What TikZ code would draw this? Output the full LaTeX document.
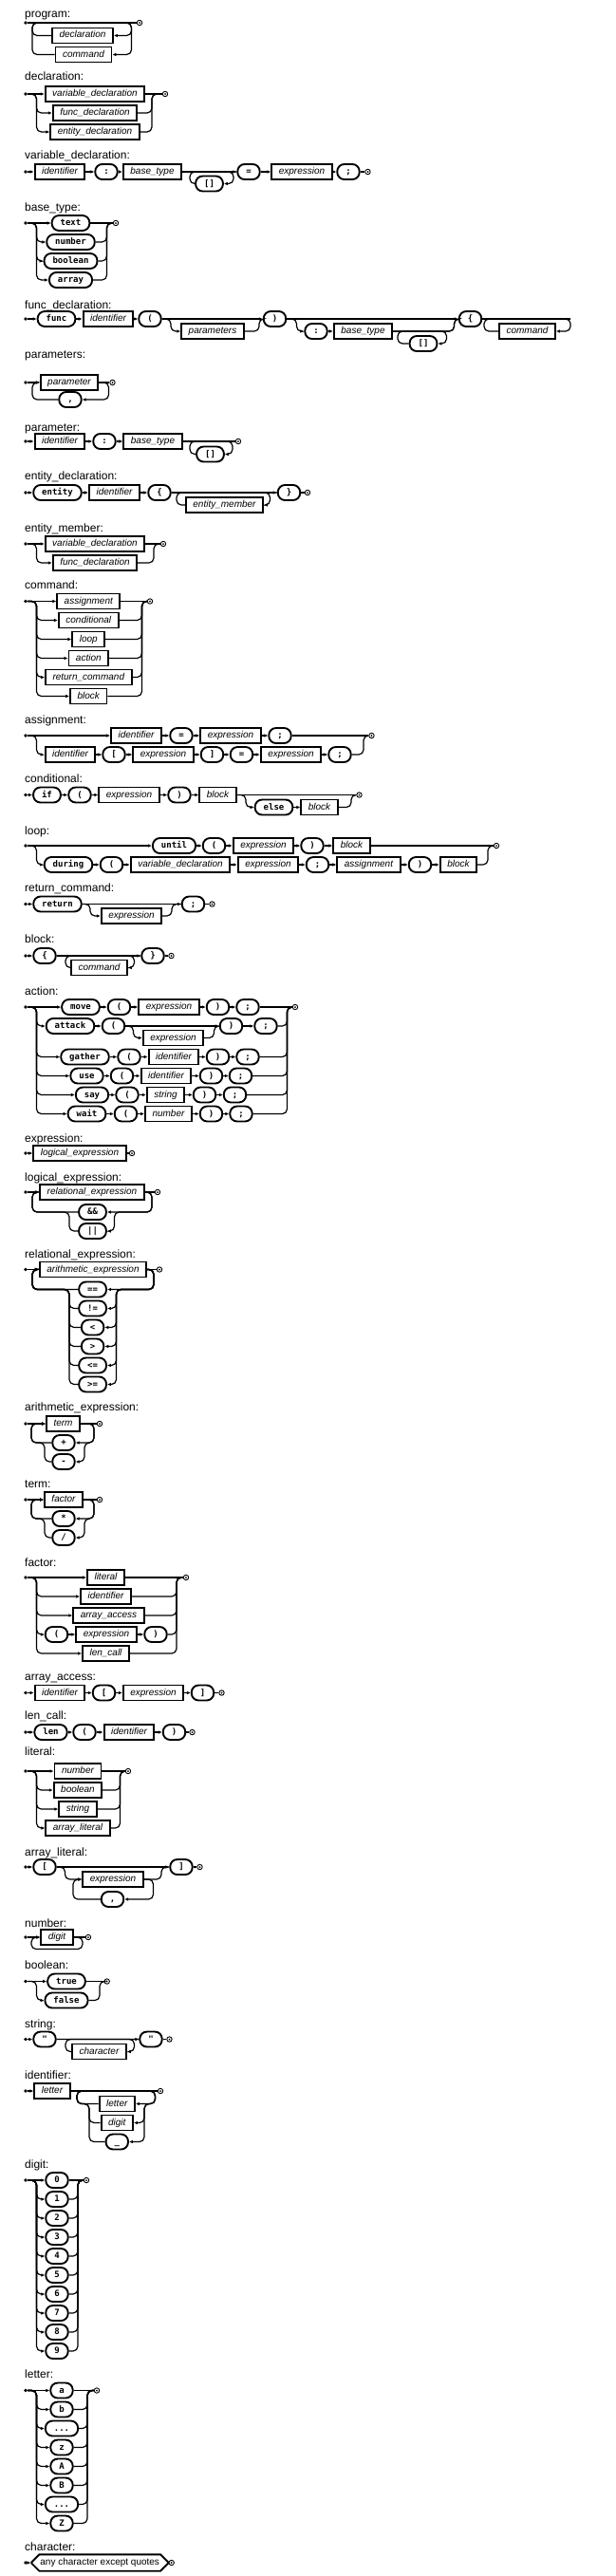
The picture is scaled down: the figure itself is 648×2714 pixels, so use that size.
\documentclass[tikz,border=0pt]{standalone}
\usepackage{fontspec}
\setmainfont{Liberation Sans}
\setmonofont{DejaVu Sans Mono}
\usepackage{tikz}
\usetikzlibrary{arrows.meta, shapes.misc}

\tikzset{
    ttl/.style={anchor=base west, inner sep=0pt, font=\fontsize{12}{14}\selectfont},
    nt/.style={draw, line width=1.9pt, minimum height=16pt, inner xsep=7.5pt, inner ysep=0pt,
        text height=7.2pt, text depth=2.2pt, font=\fontsize{10}{12}\selectfont\itshape},
    tm/.style={draw, line width=1.9pt, rounded corners=7.5pt, minimum height=16pt, minimum width=22pt,
        inner xsep=9pt, inner ysep=0pt, text height=6.8pt, text depth=1.8pt,
        font=\fontsize{9}{11}\selectfont\ttfamily\bfseries},
    chr/.style={draw, line width=1.9pt, chamfered rectangle, chamfered rectangle xsep=4pt,
        chamfered rectangle ysep=4pt, minimum height=16pt, inner xsep=5pt, inner ysep=0pt,
        text height=7.2pt, text depth=2.2pt, font=\fontsize{10}{12}\selectfont},
    src/.style={circle, fill, inner sep=0pt, minimum size=3.8pt},
    snk/.style={circle, draw, line width=0.9pt, inner sep=0pt, minimum size=5.4pt,
        path picture={\fill (path picture bounding box.center) circle (1pt);}},
    rl/.style={line width=1.2pt, rounded corners=5pt},
    ar/.style={-{Latex[length=4pt, width=3.6pt]}},
}

\begin{document}
\begin{tikzpicture}[x=1pt, y=-1pt]
    \useasboundingbox (0,0) rectangle (648,2714);
    \fill[white] (0,0) rectangle (648,2714);

    \node[ttl] (pgT) at (26,19) {program:};
    \node[src] (pgS) at (27,24) {};
    \node[snk] (pgE) at (147,24) {};
    \node[nt] (pgD) at (87,37.5) {declaration};
    \node[nt] (pgC) at (88,57.5) {command};
    \draw[rl] (pgS) -- (pgE);
    \draw[rl,ar] (pgS) -| (138.5,37.5) -- (pgD);
    \draw[rl,ar] (pgS) -| (138.5,57.5) -- (pgC);
    \draw[rl] (pgD) -| (34,24) -- (pgE);
    \draw[rl] (pgC) -| (34,24) -- (pgE);

    \node[ttl] (dcT) at (26,84.5) {declaration:};
    \node[src] (dcS) at (27,99) {};
    \node[snk] (dcE) at (174,99) {};
    \node[nt] (dcV) at (100,99) {variable\_declaration};
    \node[nt] (dcF) at (100,119) {func\_declaration};
    \node[nt] (dcN) at (100,139) {entity\_declaration};
    \draw[rl,ar] (dcS) -- (dcV);
    \draw[rl] (dcV) -- (dcE);
    \foreach \n/\y in {dcF/119, dcN/139} {
        \draw[rl,ar] (dcS) -| (38.5,\y) -- (\n);
        \draw[rl] (\n) -| (160,99) -- (dcE);
    }

    \node[ttl] (vdT) at (26,167) {variable\_declaration:};
    \node[src] (vdS) at (27,181) {};
    \node[nt] (vdI) at (63,181) {identifier};
    \node[tm] (vdC) at (112,181) {:};
    \node[nt] (vdB) at (160.5,181) {base\_type};
    \node[tm] (vdA) at (220.5,193.5) {[]};
    \node[tm] (vdQ) at (262,181) {=};
    \node[nt] (vdX) at (318,181) {expression};
    \node[tm] (vdM) at (367,181) {;};
    \node[snk] (vdE) at (387.5,181) {};
    \foreach \a/\b in {vdS/vdI, vdI/vdC, vdC/vdB, vdB/vdQ, vdQ/vdX, vdX/vdM}
        \draw[rl,ar] (\a) -- (\b);
    \draw[rl] (vdM) -- (vdE);
    \draw[rl,ar] (vdB) -| (246,193.5) -- (vdA);
    \draw[rl] (vdA) -| (200,181) -- (vdQ);

    \node[ttl] (btT) at (26,222) {base\_type:};
    \node[src] (btS) at (27,235) {};
    \node[snk] (btE) at (122,235) {};
    \node[tm] (btA) at (74.5,235) {text};
    \node[tm] (btB) at (74.5,255) {number};
    \node[tm] (btC) at (74.5,275) {boolean};
    \node[tm] (btD) at (74.5,295) {array};
    \draw[rl,ar] (btS) -- (btA);
    \draw[rl] (btA) -- (btE);
    \foreach \n/\y in {btB/255, btC/275, btD/295} {
        \draw[rl,ar] (btS) -| (38.5,\y) -- (\n);
        \draw[rl] (\n) -| (112.5,235) -- (btE);
    }

    \node[ttl] (fdT) at (26,325) {func\_declaration:};
    \node[src] (fdS) at (27,336) {};
    \node[tm] (fdF) at (59.5,336) {func};
    \node[nt] (fdI) at (114,336) {identifier};
    \node[tm] (fdP1) at (158,336) {(};
    \node[nt] (fdPa) at (224,349) {parameters};
    \node[tm] (fdP2) at (289.5,336) {)};
    \node[tm] (fdC) at (333,349) {:};
    \node[nt] (fdB) at (382.5,349) {base\_type};
    \node[tm] (fdA) at (446,362) {[]};
    \node[tm] (fdL) at (495.5,336) {\{};
    \node[nt] (fdCm) at (555.5,349) {command};
    \coordinate (fdZ) at (601,336);
    \foreach \a/\b in {fdS/fdF, fdF/fdI, fdI/fdP1, fdP1/fdP2, fdP2/fdL, fdC/fdB}
        \draw[rl,ar] (\a) -- (\b);
    \draw[rl,ar] (fdP1) -| (180,349) -- (fdPa);
    \draw[rl] (fdPa) -| (273,336) -- (fdP2);
    \draw[rl,ar] (fdP2) -| (312.5,349) -- (fdC);
    \draw[rl] (fdB) -| (478.5,336) -- (fdL);
    \draw[rl,ar] (fdB) -| (470.5,362) -- (fdA);
    \draw[rl] (fdA) -| (419,349) -| (478.5,336) -- (fdL);
    \draw[rl] (fdL) -- (fdZ);
    \draw[rl,ar] (fdL) -| (601,349) -- (fdCm);
    \draw[rl] (fdCm) -| (510,336) -- (fdZ);

    \node[ttl] (psT) at (26,377) {parameters:};
    \node[src] (psS) at (27,403) {};
    \node[nt] (psP) at (73,403) {parameter};
    \node[tm] (psC) at (74,421) {,};
    \node[snk] (psE) at (118.5,403) {};
    \draw[rl,ar] (psS) -- (psP);
    \draw[rl] (psP) -- (psE);
    \draw[rl,ar] (psP) -| (114.5,421) -- (psC);
    \draw[rl,ar] (psC) -| (34,403) -- (psP);

    \node[ttl] (paT) at (26,454) {parameter:};
    \node[src] (paS) at (27,465) {};
    \node[nt] (paI) at (63,465) {identifier};
    \node[tm] (paC) at (110,465) {:};
    \node[nt] (paB) at (161,465) {base\_type};
    \node[tm] (paA) at (221.5,478.5) {[]};
    \node[snk] (paE) at (251,465) {};
    \foreach \a/\b in {paS/paI, paI/paC, paC/paB}
        \draw[rl,ar] (\a) -- (\b);
    \draw[rl] (paB) -- (paE);
    \draw[rl,ar] (paB) -| (245,478.5) -- (paA);
    \draw[rl] (paA) -| (200,465) -- (paE);

    \node[ttl] (edT) at (26,505) {entity\_declaration:};
    \node[src] (edS) at (27,519) {};
    \node[tm] (edN) at (60.5,519) {entity};
    \node[nt] (edI) at (120.5,519) {identifier};
    \node[tm] (edL) at (168,519) {\{};
    \node[nt] (edM) at (236.5,532) {entity\_member};
    \node[tm] (edR) at (304.5,519) {\}};
    \node[snk] (edE) at (324,519) {};
    \foreach \a/\b in {edS/edN, edN/edI, edI/edL, edL/edR}
        \draw[rl,ar] (\a) -- (\b);
    \draw[rl] (edR) -- (edE);
    \draw[rl,ar] (edL) -| (284.5,532) -- (edM);
    \draw[rl] (edM) -| (186,519) -- (edR);

    \node[ttl] (emT) at (26,560) {entity\_member:};
    \node[src] (emS) at (27,573) {};
    \node[nt] (emV) at (100,573) {variable\_declaration};
    \node[nt] (emF) at (100,593) {func\_declaration};
    \node[snk] (emE) at (172,573) {};
    \draw[rl,ar] (emS) -- (emV);
    \draw[rl] (emV) -- (emE);
    \draw[rl,ar] (emS) -| (38.5,593) -- (emF);
    \draw[rl] (emF) -| (162,573) -- (emE);

    \node[ttl] (cmT) at (26,620) {command:};
    \node[src] (cmS) at (27,633.5) {};
    \node[snk] (cmE) at (158,633.5) {};
    \node[nt] (cmA) at (93.3,633.5) {assignment};
    \node[nt] (cmB) at (93.3,653.5) {conditional};
    \node[nt] (cmC) at (93.3,673.5) {loop};
    \node[nt] (cmD) at (93.3,693.5) {action};
    \node[nt] (cmF) at (93.3,713.5) {return\_command};
    \node[nt] (cmG) at (93.3,733.5) {block};
    \draw[rl,ar] (cmS) -- (cmA);
    \draw[rl] (cmA) -- (cmE);
    \foreach \n/\y in {cmB/653.5, cmC/673.5, cmD/693.5, cmF/713.5, cmG/733.5} {
        \draw[rl,ar] (cmS) -| (38.5,\y) -- (\n);
        \draw[rl] (\n) -| (149.5,633.5) -- (cmE);
    }

    \node[ttl] (asT) at (26,762) {assignment:};
    \node[src] (asS) at (27,775) {};
    \node[nt] (asI1) at (143.5,775) {identifier};
    \node[tm] (asQ1) at (191,775) {=};
    \node[nt] (asX1) at (243,775) {expression};
    \node[tm] (asM1) at (295,775) {;};
    \node[nt] (asI2) at (74,795) {identifier};
    \node[tm] (asB1) at (120,795) {[};
    \node[nt] (asX2) at (172,795) {expression};
    \node[tm] (asB2) at (223.5,795) {]};
    \node[tm] (asQ2) at (254.5,795) {=};
    \node[nt] (asX3) at (306.5,795) {expression};
    \node[tm] (asM2) at (358,795) {;};
    \node[snk] (asE) at (391.5,775) {};
    \foreach \a/\b in {asS/asI1, asI1/asQ1, asQ1/asX1, asX1/asM1, asI2/asB1, asB1/asX2,
        asX2/asB2, asB2/asQ2, asQ2/asX3, asX3/asM2}
        \draw[rl,ar] (\a) -- (\b);
    \draw[rl] (asM1) -- (asE);
    \draw[rl,ar] (asS) -| (38.5,795) -- (asI2);
    \draw[rl] (asM2) -| (383,775) -- (asE);

    \node[ttl] (cdT) at (26,824) {conditional:};
    \node[src] (cdS) at (27,837.5) {};
    \node[tm] (cdIf) at (49.5,837.5) {if};
    \node[tm] (cdP1) at (84,837.5) {(};
    \node[nt] (cdX) at (136,837.5) {expression};
    \node[tm] (cdP2) at (189,837.5) {)};
    \node[nt] (cdB) at (229.5,837.5) {block};
    \node[tm] (cdEl) at (288.5,850.5) {else};
    \node[nt] (cdB2) at (336.5,850.5) {block};
    \node[snk] (cdE) at (378.5,837.5) {};
    \foreach \a/\b in {cdS/cdIf, cdIf/cdP1, cdP1/cdX, cdX/cdP2, cdP2/cdB, cdEl/cdB2}
        \draw[rl,ar] (\a) -- (\b);
    \draw[rl] (cdB) -- (cdE);
    \draw[rl,ar] (cdB) -| (259,850.5) -- (cdEl);
    \draw[rl] (cdB2) -| (370,837.5) -- (cdE);

    \node[ttl] (lpT) at (26,879) {loop:};
    \node[src] (lpS) at (27,891) {};
    \node[tm] (lpU) at (183.5,891) {until};
    \node[tm] (lpP1) at (225.5,891) {(};
    \node[nt] (lpX) at (277.5,891) {expression};
    \node[tm] (lpP2) at (329,891) {)};
    \node[nt] (lpB) at (370.5,891) {block};
    \node[tm] (lpD) at (72,911) {during};
    \node[tm] (lpP3) at (117.5,911) {(};
    \node[nt] (lpV) at (190,911) {variable\_declaration};
    \node[nt] (lpX2) at (282.5,911) {expression};
    \node[tm] (lpM) at (334.5,911) {;};
    \node[nt] (lpA) at (388.5,911) {assignment};
    \node[tm] (lpP4) at (442.5,911) {)};
    \node[nt] (lpB2) at (483,911) {block};
    \node[snk] (lpE) at (523,891) {};
    \foreach \a/\b in {lpS/lpU, lpU/lpP1, lpP1/lpX, lpX/lpP2, lpP2/lpB, lpD/lpP3, lpP3/lpV,
        lpV/lpX2, lpX2/lpM, lpM/lpA, lpA/lpP4, lpP4/lpB2}
        \draw[rl,ar] (\a) -- (\b);
    \draw[rl] (lpB) -- (lpE);
    \draw[rl,ar] (lpS) -| (38.5,911) -- (lpD);
    \draw[rl] (lpB2) -| (514,891) -- (lpE);

    \node[ttl] (rcT) at (26,939) {return\_command:};
    \node[src] (rcS) at (27,952.5) {};
    \node[tm] (rcR) at (60.5,952.5) {return};
    \node[nt] (rcX) at (138.5,965) {expression};
    \node[tm] (rcM) at (203.5,952.5) {;};
    \node[snk] (rcE) at (223.5,952.5) {};
    \draw[rl,ar] (rcS) -- (rcR);
    \draw[rl,ar] (rcR) -- (rcM);
    \draw[rl] (rcM) -- (rcE);
    \draw[rl,ar] (rcR) -| (95,965) -- (rcX);
    \draw[rl] (rcX) -| (181,952.5) -- (rcM);

    \node[ttl] (bkT) at (26,993) {block:};
    \node[src] (bkS) at (27,1007) {};
    \node[tm] (bkL) at (47,1007) {\{};
    \node[nt] (bkC) at (104.5,1019.5) {command};
    \node[tm] (bkR) at (161,1007) {\}};
    \node[snk] (bkE) at (180.5,1007) {};
    \draw[rl,ar] (bkS) -- (bkL);
    \draw[rl,ar] (bkL) -- (bkR);
    \draw[rl] (bkR) -- (bkE);
    \draw[rl,ar] (bkL) -| (141.5,1019.5) -- (bkC);
    \draw[rl] (bkC) -| (69,1007) -- (bkR);

    \node[ttl] (acT) at (26,1048) {action:};
    \node[src] (acS) at (27,1061) {};
    \node[snk] (acE) at (311,1061) {};
    \node[tm] (acMv) at (85,1061) {move};
    \node[tm] (acP1) at (125.5,1061) {(};
    \node[nt] (acX1) at (178,1061) {expression};
    \node[tm] (acP2) at (229.5,1061) {)};
    \node[tm] (acM1) at (261,1061) {;};
    \node[tm] (acAt) at (74,1081) {attack};
    \node[tm] (acP3) at (119.5,1081) {(};
    \node[nt] (acX2) at (182.5,1093.5) {expression};
    \node[tm] (acP4) at (243.5,1081) {)};
    \node[tm] (acM2) at (280,1081) {;};
    \node[tm] (acG) at (89.5,1113.5) {gather};
    \node[tm] (acP5) at (136,1113.5) {(};
    \node[nt] (acI1) at (183,1113.5) {identifier};
    \node[tm] (acP6) at (229.5,1113.5) {)};
    \node[tm] (acM3) at (261,1113.5) {;};
    \node[tm] (acU) at (91.5,1133.5) {use};
    \node[tm] (acP7) at (128.5,1133.5) {(};
    \node[nt] (acI2) at (175,1133.5) {identifier};
    \node[tm] (acP8) at (222.5,1133.5) {)};
    \node[tm] (acM4) at (253.5,1133.5) {;};
    \node[tm] (acSy) at (97,1153.5) {say};
    \node[tm] (acP9) at (134,1153.5) {(};
    \node[nt] (acSt) at (174.5,1153.5) {string};
    \node[tm] (acP10) at (215.5,1153.5) {)};
    \node[tm] (acM5) at (247.5,1153.5) {;};
    \node[tm] (acW) at (91.5,1173.5) {wait};
    \node[tm] (acP11) at (132.5,1173.5) {(};
    \node[nt] (acN) at (177.5,1173.5) {number};
    \node[tm] (acP12) at (222.5,1173.5) {)};
    \node[tm] (acM6) at (254,1173.5) {;};
    \foreach \a/\b in {acS/acMv, acMv/acP1, acP1/acX1, acX1/acP2, acP2/acM1, acAt/acP3,
        acP3/acP4, acP4/acM2, acG/acP5, acP5/acI1, acI1/acP6, acP6/acM3, acU/acP7,
        acP7/acI2, acI2/acP8, acP8/acM4, acSy/acP9, acP9/acSt, acSt/acP10, acP10/acM5,
        acW/acP11, acP11/acN, acN/acP12, acP12/acM6}
        \draw[rl,ar] (\a) -- (\b);
    \draw[rl] (acM1) -- (acE);
    \foreach \n/\m/\y in {acAt/acM2/1081, acG/acM3/1113.5, acU/acM4/1133.5,
        acSy/acM5/1153.5, acW/acM6/1173.5} {
        \draw[rl,ar] (acS) -| (38.5,\y) -- (\n);
        \draw[rl] (\m) -| (302.5,1061) -- (acE);
    }
    \draw[rl,ar] (acP3) -| (140.5,1093.5) -- (acX2);
    \draw[rl] (acX2) -| (225.5,1081) -- (acP4);

    \node[ttl] (exT) at (26,1203) {expression:};
    \node[src] (exS) at (27,1215) {};
    \node[nt] (exL) at (84,1215) {logical\_expression};
    \node[snk] (exE) at (139,1215) {};
    \draw[rl,ar] (exS) -- (exL);
    \draw[rl] (exL) -- (exE);

    \node[ttl] (leT) at (26,1244) {logical\_expression:};
    \node[src] (leS) at (27,1256) {};
    \node[nt] (leR) at (97,1256) {relational\_expression};
    \node[snk] (leE) at (166,1256) {};
    \node[tm] (leA) at (97.5,1277) {\&\&};
    \node[tm] (leO) at (97.5,1297) {||};
    \draw[rl,ar] (leS) -- (leR);
    \draw[rl] (leR) -- (leE);
    \draw[rl,ar] (leR) -| (160,1277) -- (leA);
    \draw[rl,ar] (leA) -| (34,1256) -- (leR);
    \draw[rl,ar] (leR) -| (160,1277) -| (120.5,1297) -- (leO);
    \draw[rl,ar] (leO) -| (73,1277) -| (34,1256) -- (leR);

    \node[ttl] (reT) at (26,1325) {relational\_expression:};
    \node[src] (reS) at (27,1337.5) {};
    \node[nt] (reA) at (98,1337.5) {arithmetic\_expression};
    \node[snk] (reE) at (168,1337.5) {};
    \draw[rl,ar] (reS) -- (reA);
    \draw[rl] (reA) -- (reE);
    \foreach \t [count=\k from 0] in {==,!=,<,>,<=,>=}
        \node[tm] (reO\k) at (97.6,1358.5+20*\k) {\t};
    \draw[rl,ar] (reA) -| (162,1358.5) -- (reO0);
    \draw[rl,ar] (reO0) -| (34,1337.5) -- (reA);
    \foreach \k in {1,...,5} {
        \draw[rl,ar] (reA) -| (162,1358.5) -| (122.5,1358.5+20*\k) -- (reO\k);
        \draw[rl,ar] (reO\k) -| (73,1358.5) -| (34,1337.5) -- (reA);
    }

    \node[ttl] (aeT) at (26,1486) {arithmetic\_expression:};
    \node[src] (aeS) at (27,1500) {};
    \node[nt] (aeT1) at (66.5,1500) {term};
    \node[tm] (aeP) at (67,1520) {+};
    \node[tm] (aeM) at (67,1540) {-};
    \node[snk] (aeE) at (105,1500) {};
    \draw[rl,ar] (aeS) -- (aeT1);
    \draw[rl] (aeT1) -- (aeE);
    \draw[rl,ar] (aeT1) -| (99,1520) -- (aeP);
    \draw[rl,ar] (aeP) -| (33,1500) -- (aeT1);
    \draw[rl,ar] (aeT1) -| (99,1520) -| (89,1540) -- (aeM);
    \draw[rl,ar] (aeM) -| (47,1520) -| (33,1500) -- (aeT1);

    \node[ttl] (tmT) at (26,1567) {term:};
    \node[src] (tmS) at (27,1580) {};
    \node[nt] (tmF) at (67,1580) {factor};
    \node[tm] (tmA) at (67,1600) {*};
    \node[tm] (tmB) at (67,1620) {/};
    \node[snk] (tmE) at (105,1580) {};
    \draw[rl,ar] (tmS) -- (tmF);
    \draw[rl] (tmF) -- (tmE);
    \draw[rl,ar] (tmF) -| (99,1600) -- (tmA);
    \draw[rl,ar] (tmA) -| (33,1580) -- (tmF);
    \draw[rl,ar] (tmF) -| (99,1600) -| (89,1620) -- (tmB);
    \draw[rl,ar] (tmB) -| (47,1600) -| (33,1580) -- (tmF);

    \node[ttl] (fcT) at (26,1650) {factor:};
    \node[src] (fcS) at (27,1662) {};
    \node[snk] (fcE) at (196,1662) {};
    \node[nt] (fcL) at (111.5,1662) {literal};
    \node[nt] (fcI) at (111.5,1682) {identifier};
    \node[nt] (fcA) at (114.5,1702) {array\_access};
    \node[tm] (fcP1) at (59.5,1722) {(};
    \node[nt] (fcX) at (112,1722) {expression};
    \node[tm] (fcP2) at (164,1722) {)};
    \node[nt] (fcC) at (111.5,1742) {len\_call};
    \draw[rl,ar] (fcS) -- (fcL);
    \draw[rl] (fcL) -- (fcE);
    \foreach \n/\m/\y in {fcI/fcI/1682, fcA/fcA/1702, fcP1/fcP2/1722, fcC/fcC/1742} {
        \draw[rl,ar] (fcS) -| (38.5,\y) -- (\n);
        \draw[rl] (\m) -| (186,1662) -- (fcE);
    }
    \draw[rl,ar] (fcP1) -- (fcX);
    \draw[rl,ar] (fcX) -- (fcP2);

    \node[ttl] (aaT) at (26,1770) {array\_access:};
    \node[src] (aaS) at (27,1783.5) {};
    \node[nt] (aaI) at (63,1783.5) {identifier};
    \node[tm] (aaB1) at (109.5,1783.5) {[};
    \node[nt] (aaX) at (161.5,1783.5) {expression};
    \node[tm] (aaB2) at (213.5,1783.5) {]};
    \node[snk] (aaE) at (233.5,1783.5) {};
    \foreach \a/\b in {aaS/aaI, aaI/aaB1, aaB1/aaX, aaX/aaB2}
        \draw[rl,ar] (\a) -- (\b);
    \draw[rl] (aaB2) -- (aaE);

    \node[ttl] (lcT) at (26,1811) {len\_call:};
    \node[src] (lcS) at (27,1825) {};
    \node[tm] (lcL) at (53.5,1825) {len};
    \node[tm] (lcP1) at (89,1825) {(};
    \node[nt] (lcI) at (136,1825) {identifier};
    \node[tm] (lcP2) at (183.5,1825) {)};
    \node[snk] (lcE) at (202.5,1825) {};
    \foreach \a/\b in {lcS/lcL, lcL/lcP1, lcP1/lcI, lcI/lcP2}
        \draw[rl,ar] (\a) -- (\b);
    \draw[rl] (lcP2) -- (lcE);

    \node[ttl] (ltT) at (26,1849) {literal:};
    \node[src] (ltS) at (27,1866) {};
    \node[snk] (ltE) at (135,1866) {};
    \node[nt] (ltN) at (82,1866) {number};
    \node[nt] (ltB) at (82,1886) {boolean};
    \node[nt] (ltS2) at (82,1906) {string};
    \node[nt] (ltA) at (82,1926) {array\_literal};
    \draw[rl,ar] (ltS) -- (ltN);
    \draw[rl] (ltN) -- (ltE);
    \foreach \n/\y in {ltB/1886, ltS2/1906, ltA/1926} {
        \draw[rl,ar] (ltS) -| (38.5,\y) -- (\n);
        \draw[rl] (\n) -| (126.5,1866) -- (ltE);
    }

    \node[ttl] (alT) at (26,1955) {array\_literal:};
    \node[src] (alS) at (27,1967) {};
    \node[tm] (alL) at (47,1967) {[};
    \node[nt] (alX) at (119,1980) {expression};
    \node[tm] (alC) at (118.5,2001) {,};
    \node[tm] (alR) at (191,1967) {]};
    \node[snk] (alE) at (210.5,1967) {};
    \draw[rl,ar] (alS) -- (alL);
    \draw[rl,ar] (alL) -- (alR);
    \draw[rl] (alR) -- (alE);
    \draw[rl,ar] (alL) -| (68.5,1980) -- (alX);
    \draw[rl] (alX) -| (170,1967) -- (alR);
    \draw[rl,ar] (alX) -| (161.5,2001) -- (alC);
    \draw[rl,ar] (alC) -| (77,1980) -- (alX);

    \node[ttl] (nmT) at (26,2030) {number:};
    \node[src] (nmS) at (27,2041) {};
    \node[nt] (nmD) at (60,2041) {digit};
    \node[snk] (nmE) at (93,2041) {};
    \draw[rl,ar] (nmS) -- (nmD);
    \draw[rl] (nmD) -- (nmE);
    \draw[rl,ar] (nmD) -| (87,2053.5) -| (33,2041) -- (nmD);

    \node[ttl] (blT) at (26,2074) {boolean:};
    \node[src] (blS) at (27,2087.5) {};
    \node[tm] (blT1) at (70,2087.5) {true};
    \node[tm] (blF) at (70,2107.5) {false};
    \node[snk] (blE) at (112.7,2087.5) {};
    \draw[rl,ar] (blS) -- (blT1);
    \draw[rl] (blT1) -- (blE);
    \draw[rl,ar] (blS) -| (38.5,2107.5) -- (blF);
    \draw[rl] (blF) -| (105,2087.5) -- (blE);

    \node[ttl] (stT) at (26,2136) {string:};
    \node[src] (stS) at (27,2148.5) {};
    \node[tm] (stQ1) at (47,2148.5) {"};
    \node[nt] (stC) at (104.5,2161.5) {character};
    \node[tm] (stQ2) at (159,2148.5) {"};
    \node[snk] (stE) at (178.5,2148.5) {};
    \draw[rl,ar] (stS) -- (stQ1);
    \draw[rl,ar] (stQ1) -- (stQ2);
    \draw[rl] (stQ2) -- (stE);
    \draw[rl,ar] (stQ1) -| (141.5,2161.5) -- (stC);
    \draw[rl] (stC) -| (69,2148.5) -- (stQ2);

    \node[ttl] (idT) at (26,2190) {identifier:};
    \node[src] (idS) at (27,2203) {};
    \node[nt] (idL) at (55,2203) {letter};
    \node[snk] (idE) at (169,2203) {};
    \node[nt] (idL2) at (123.3,2216.5) {letter};
    \node[nt] (idD) at (123.3,2236.5) {digit};
    \node[tm] (idU) at (123.3,2256.5) {\_};
    \draw[rl,ar] (idS) -- (idL);
    \draw[rl] (idL) -- (idE);
    \draw[rl,ar] (idL) -| (163.5,2216.5) -- (idL2);
    \draw[rl] (idL2) -| (81,2203) -- (idE);
    \foreach \n/\y in {idD/2236.5, idU/2256.5} {
        \draw[rl,ar] (idL) -| (163.5,2216.5) -| (152,\y) -- (\n);
        \draw[rl] (\n) -| (94,2216.5) -| (81,2203) -- (idE);
    }

    \node[ttl] (dgT) at (26,2284) {digit:};
    \node[src] (dgS) at (27,2297) {};
    \node[snk] (dgE) at (91,2297) {};
    \foreach \d in {0,...,9}
        \node[tm] (dg\d) at (60,2297+20*\d) {\d};
    \draw[rl,ar] (dgS) -- (dg0);
    \draw[rl] (dg0) -- (dgE);
    \foreach \d in {1,...,9} {
        \draw[rl,ar] (dgS) -| (38.5,2297+20*\d) -- (dg\d);
        \draw[rl] (dg\d) -| (82,2297) -- (dgE);
    }

    \node[ttl] (lrT) at (26,2505) {letter:};
    \node[src] (lrS) at (27,2518.5) {};
    \node[snk] (lrE) at (102,2518.5) {};
    \node[tm] (lr0) at (65,2518.5) {a};
    \node[tm] (lr1) at (65,2538.5) {b};
    \node[tm] (lr2) at (65,2558.5) {...};
    \node[tm] (lr3) at (65,2578.5) {z};
    \node[tm] (lr4) at (65,2598.5) {A};
    \node[tm] (lr5) at (65,2618.5) {B};
    \node[tm] (lr6) at (65,2638.5) {...};
    \node[tm] (lr7) at (65,2658.5) {Z};
    \draw[rl,ar] (lrS) -- (lr0);
    \draw[rl] (lr0) -- (lrE);
    \foreach \k in {1,...,7} {
        \draw[rl,ar] (lrS) -| (38.5,2518.5+20*\k) -- (lr\k);
        \draw[rl] (lr\k) -| (92,2518.5) -- (lrE);
    }

    \node[ttl] (chT) at (26,2687) {character:};
    \node[src] (chS) at (27,2700) {};
    \node[chr] (chA) at (105.2,2700) {any character except quotes};
    \node[snk] (chE) at (180.7,2700) {};
    \draw[rl,ar] (chS) -- (chA);
    \draw[rl] (chA) -- (chE);
\end{tikzpicture}
\end{document}
